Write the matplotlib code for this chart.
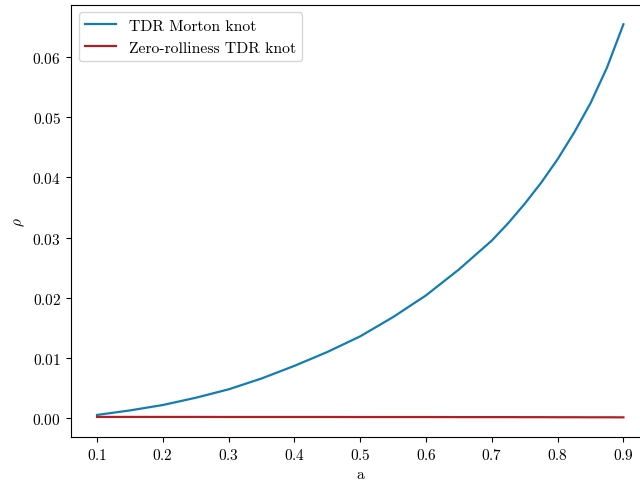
import matplotlib
matplotlib.use("Agg")
import matplotlib.pyplot as plt

plt.rcParams["font.family"] = ["cmr10", "DejaVu Serif"]
plt.rcParams["mathtext.fontset"] = "cm"
plt.rcParams["axes.formatter.use_mathtext"] = True
plt.rcParams["font.size"] = 11

# spin parameter a and density rho for both knot types
a = [0.10, 0.15, 0.20, 0.25, 0.30, 0.35, 0.40, 0.45, 0.50, 0.55, 0.60, 0.65,
     0.70, 0.725, 0.75, 0.775, 0.80, 0.825, 0.85, 0.875, 0.90]
rho_morton = [0.00055, 0.0013, 0.0022, 0.0034, 0.0048, 0.0066, 0.0087, 0.0110, 0.0136, 0.0168, 0.0204, 0.0247,
              0.0295, 0.0324, 0.0356, 0.0391, 0.0430, 0.0474, 0.0523, 0.0582, 0.0654]
rho_zero_roll = [0.00022, 0.00022, 0.00022, 0.00022, 0.00021, 0.00021, 0.00021, 0.00021, 0.00020, 0.00020, 0.00020, 0.00019,
                 0.00019, 0.00019, 0.00018, 0.00018, 0.00017, 0.00017, 0.00016, 0.00016, 0.00015]

fig = plt.figure(figsize=(6.4, 4.85))
# axes run a little past the right edge of the canvas
ax = fig.add_axes([0.1105, 0.0969, 0.9047, 0.8915])
ax.plot(a, rho_morton, color="#127db5", lw=1.6, label="TDR Morton knot")
ax.plot(a, rho_zero_roll, color="#b11f24", lw=1.6, label="Zero-rolliness TDR knot")

ax.set_xlabel("a")
ax.set_ylabel(r"$\rho$")
ax.legend(loc="upper left", fontsize=11.3)
fig.savefig("out.png", dpi=100)
